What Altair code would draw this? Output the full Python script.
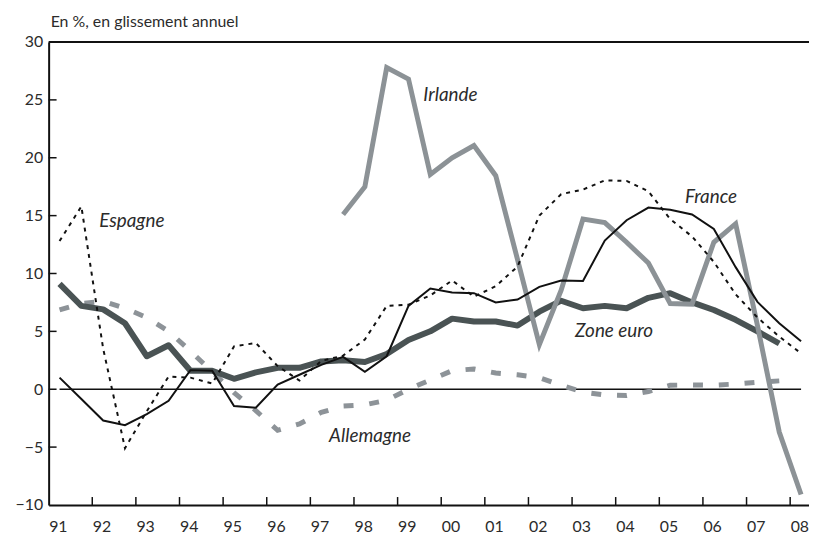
import altair as alt
import pandas as pd

# Half-year observations (S1 = first half, S2 = second half)
zone_euro_start = "1991-S1"
zone_euro = [9.1, 7.2, 6.9, 5.7, 2.85, 3.8, 1.6, 1.6, 0.9, 1.45, 1.85, 1.85, 2.4, 2.5,
             2.35, 3.05, 4.25, 5.0, 6.1, 5.85, 5.85, 5.5, 6.7, 7.65, 7.0, 7.2, 7.0, 7.9,
             8.3, 7.5, 6.85, 6.0, 5.0, 3.95]
france_start = "1991-S1"
france = [1.0, -0.85, -2.7, -3.1, -2.15, -1.0, 1.65, 1.6, -1.45, -1.6, 0.4, 1.25, 2.1, 2.8,
          1.5, 2.85, 7.2, 8.7, 8.35, 8.3, 7.5, 7.75, 8.85, 9.4, 9.35, 12.85, 14.6, 15.7,
          15.5, 15.1, 13.85, 10.55, 7.55, 5.7, 4.15]
espagne_start = "1991-S1"
espagne = [12.8, 15.8, 3.5, -5.1, -1.9, 1.1, 1.0, 0.5, 3.7, 4.0, 2.0, 0.75, 2.45, 2.9,
           4.3, 7.2, 7.3, 8.1, 9.4, 8.0, 8.9, 10.6, 15.0, 16.85, 17.25, 18.05, 18.0, 17.1,
           14.7, 13.2, 11.0, 8.2, 6.2, 4.55, 3.1]
allemagne_start = "1991-S1"
allemagne = [6.85, 7.4, 7.6, 7.0, 6.2, 5.0, 3.3, 1.5, -0.3, -1.85, -3.55, -3.0, -2.0, -1.45,
             -1.35, -0.95, 0.0, 0.8, 1.6, 1.75, 1.4, 1.25, 1.0, 0.35, -0.25, -0.5, -0.55,
             -0.2, 0.35, 0.37, 0.35, 0.45, 0.6, 0.72]
irlande_start = "1997-S2"
irlande = [15.1, 17.5, 27.8, 26.8, 18.55, 20.0, 21.05, 18.45, 11.2, 3.85, 8.55, 14.7, 14.4,
           12.7, 10.9, 7.4, 7.35, 12.7, 14.3, 5.5, -3.7, -9.1]

year_ticks = list(range(1991, 2009))
y_ticks = [-10, -5, 0, 5, 10, 15, 20, 25, 30]
zero_span = ["1991-S1", "2008-S1"]

title_text = "En %, en glissement annuel"
series_labels = ["Irlande", "Espagne", "France", "Zone euro", "Allemagne"]
label_x = [1999.59, 1992.16, 2005.59, 2003.07, 1997.43]
label_y = [24.9, 14.0, 16.07, 4.51, -4.57]


def period_to_t(p):
    y, h = p.split("-S")
    return int(y) + (0.25 if h == "1" else 0.75)


def series_df(name, start, values):
    t0 = period_to_t(start)
    return pd.DataFrame({"serie": name,
                         "t": [t0 + 0.5 * i for i in range(len(values))],
                         "v": values})


W, H = 767, 467
FONT = "Lato"
TXT = "#2b2b2b"
xscale = alt.Scale(domain=[1991, 1991 + W / 44.0], nice=False, zero=False)
yscale = alt.Scale(domain=[-10, 30], nice=False, zero=False)

base_x = alt.X("t:Q", scale=xscale,
               axis=alt.Axis(values=year_ticks, format="d", labelExpr="slice(datum.label, 2)",
                             labelAlign="left", labelPadding=14, tickSize=0, grid=False,
                             domainColor="#111", domainWidth=2, labelFont=FONT,
                             labelFontSize=16, labelFontWeight=400, labelColor=TXT, title=None,
                             labelOverlap=False, labelBound=False, labelFlush=False))
base_y = alt.Y("v:Q", scale=yscale,
               axis=alt.Axis(values=y_ticks, tickSize=0, grid=False, labelPadding=6,
                             domainColor="#111", domainWidth=2, labelFont=FONT,
                             labelFontSize=16, labelFontWeight=400, labelColor=TXT, title=None,
                             labelFlush=False, labelOverlap=False))


def line(df, **kw):
    return alt.Chart(df).mark_line(**kw).encode(x=base_x, y=base_y)


d_all = series_df("Allemagne", allemagne_start, allemagne)
d_ze = series_df("Zone euro", zone_euro_start, zone_euro)
d_irl = series_df("Irlande", irlande_start, irlande)
d_esp = series_df("Espagne", espagne_start, espagne)
d_fr = series_df("France", france_start, france)

zero_df = pd.DataFrame({"t": [period_to_t(zero_span[0])], "t2": [period_to_t(zero_span[1])], "v": [0]})
zero_rule = alt.Chart(zero_df).mark_rule(color="#111", strokeWidth=1.6).encode(
    x=alt.X("t:Q", scale=xscale), x2="t2:Q", y=alt.Y("v:Q", scale=yscale))

top_rule = alt.Chart(zero_df).mark_rule(color="#111", strokeWidth=2).encode(
    x=alt.value(0), x2=alt.value(W + 1), y=alt.value(0))

xt_df = pd.DataFrame({"t": year_ticks[1:]})
x_tick_marks = alt.Chart(xt_df).mark_rule(color="#111", strokeWidth=1.5).encode(
    x=alt.X("t:Q", scale=xscale), y=alt.value(H - 8), y2=alt.value(H))
yt_df = pd.DataFrame({"v": y_ticks[1:-1]})
y_tick_marks = alt.Chart(yt_df).mark_rule(color="#111", strokeWidth=1.5).encode(
    y=alt.Y("v:Q", scale=yscale), x=alt.value(0), x2=alt.value(8))

lab_df = pd.DataFrame({"txt": series_labels, "t": label_x, "v": label_y})
labels = alt.Chart(lab_df).mark_text(font=FONT, fontSize=19, fontStyle="italic", fontWeight=400,
                                     align="left", baseline="alphabetic", color=TXT).encode(
    x=alt.X("t:Q", scale=xscale), y=alt.Y("v:Q", scale=yscale), text="txt:N")

title_df = pd.DataFrame({"txt": [title_text]})
title = alt.Chart(title_df).mark_text(font=FONT, fontSize=16, fontWeight=400, align="left",
                                      baseline="alphabetic", color=TXT).encode(
    x=alt.value(2), y=alt.value(-15), text="txt:N")

chart = alt.layer(
    zero_rule,
    line(d_all, color="#8d9398", strokeWidth=5, strokeDash=[10, 16], strokeCap="butt"),
    line(d_ze, color="#4a5354", strokeWidth=6, strokeJoin="round"),
    line(d_irl, color="#8c9296", strokeWidth=5, strokeJoin="miter"),
    line(d_esp, color="#111", strokeWidth=2, strokeDash=[4, 5]),
    line(d_fr, color="#111", strokeWidth=2),
    top_rule, x_tick_marks, y_tick_marks, labels, title,
).properties(
    width=W, height=H,
    autosize=alt.AutoSizeParams(type="none"),
    padding={"left": 41, "top": 32, "right": 0, "bottom": 30},
).configure_view(stroke=None).configure(background="white")

chart.save("out.html", embed_options={"renderer": "svg", "actions": False})
